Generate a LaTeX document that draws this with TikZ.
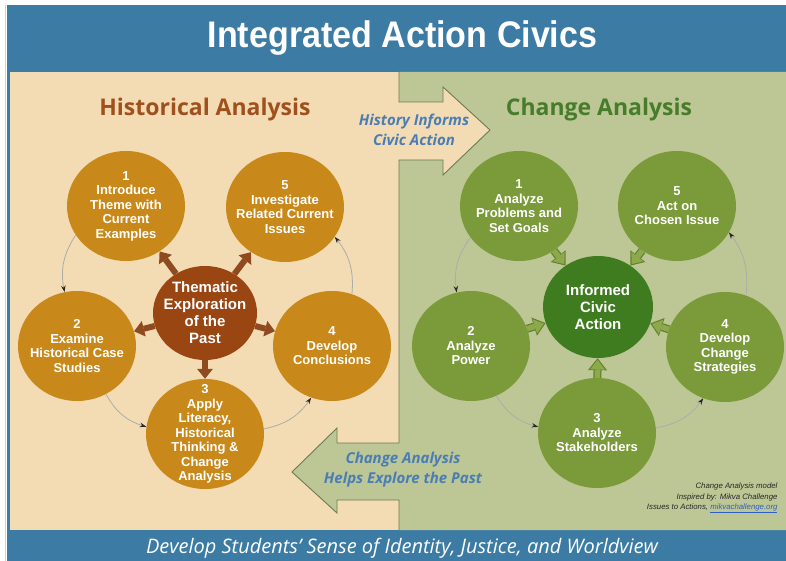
\documentclass[tikz,border=0pt]{standalone}
\usepackage{fontspec}
\usepackage{graphicx}
\setmainfont{Liberation Sans}
\newfontfamily\osans{Open Sans}
\usetikzlibrary{arrows.meta,shapes.geometric}
\definecolor{barblue}{HTML}{3B7BA4}
\definecolor{beige}{HTML}{F3DCB3}
\definecolor{sage}{HTML}{BCC795}
\definecolor{gold}{HTML}{C8891A}
\definecolor{rust}{HTML}{9A4613}
\definecolor{rustarr}{HTML}{8F4A1F}
\definecolor{olive}{HTML}{7B9A3A}
\definecolor{forest}{HTML}{3F7C20}
\definecolor{arrgreen}{HTML}{8DA94C}
\definecolor{arrgreenedge}{HTML}{62812C}
\definecolor{headbrown}{HTML}{A0501D}
\definecolor{headgreen}{HTML}{467C2A}
\definecolor{txtblue}{HTML}{4A7DB4}
\definecolor{edgeline}{HTML}{6E7A55}
\definecolor{linkblue}{HTML}{2F5FC0}
\begin{document}
\begin{tikzpicture}[x=1pt,y=-1pt,
  circtext/.style={text=white, font=\fontsize{13}{14.5}\selectfont\bfseries, align=center},
  bigc/.style={ellipse, minimum width=118pt, minimum height=110pt, inner sep=-16pt, circtext},
  lcirc/.style={bigc, fill=gold},
  rcirc/.style={bigc, fill=olive},
  hubtext/.style={text=white, font=\fontsize{15}{17}\selectfont\bfseries, align=center},
  cyc/.style={draw=gray!65, line width=0.8pt, -{Stealth[length=6.5pt,width=4.5pt,color=black!85]}, bend right=22},
  brownarr/.style={draw=rustarr, line width=6pt, -{Triangle[length=10pt,width=16pt,line width=0pt]}},
  garrout/.style={draw=arrgreenedge, line width=8pt, -{Triangle[length=12pt,width=19pt,line width=0pt]}},
  garrin/.style={draw=arrgreen, line width=5.5pt, shorten >=1.8pt, -{Triangle[length=9.5pt,width=15pt,line width=0pt]}},
  arrtext/.style={text=txtblue, font=\osans\bfseries\itshape\fontsize{15}{20}\selectfont, align=center},
  heading/.style={font=\osans\bfseries\fontsize{23}{26}\selectfont, anchor=base}
]
\useasboundingbox (0,0) rectangle (786,561);
\fill[white] (0,0) rectangle (786,561);
\draw[gray!35] (5.5,5) -- (5.5,561);
\fill[barblue] (6.5,5) rectangle (786,561);
% panels
\fill[beige] (10,72) rectangle (786,530);
\fill[sage] (399,72) -- (786,72) -- (786,530) -- (399,530) -- (399,500) -- (337,500) -- (337,513)
  -- (292,472) -- (337,428) -- (337,443) -- (399,443) -- (399,160) -- (443,160) -- (443,175)
  -- (490,130) -- (443,87) -- (443,102) -- (399,102) -- cycle;
\draw[edgeline, line width=0.9pt, line join=miter] (399,72) -- (399,102) -- (443,102) -- (443,87) -- (490,130)
  -- (443,175) -- (443,160) -- (399,160) -- (399,443) -- (337,443) -- (337,428) -- (292,472)
  -- (337,513) -- (337,500) -- (399,500) -- (399,530);
% title
\node[anchor=base, text=white, font=\bfseries\fontsize{37}{40}\selectfont] (title) at (402.5,48) {\scalebox{0.92}[1]{Integrated Action Civics}};
% headings
\node[heading, text=headbrown] (hhist) at (205,116) {Historical Analysis};
\node[heading, text=headgreen] (hchange) at (599,116) {Change Analysis};
% arrow texts
\node[arrtext] (informs) at (414,130) {History Informs\\Civic Action};
\node[arrtext] (helps) at (403,470) {Change Analysis\\Helps Explore the Past};
% left circles
\node[lcirc] (l1) at (126,206) {1\\Introduce\\Theme with\\Current\\Examples};
\node[lcirc] (l5) at (285,207) {5\\Investigate\\Related Current\\Issues};
\node[lcirc] (l2) at (77,346) {2\\Examine\\Historical Case\\Studies};
\node[lcirc] (l4) at (332,346) {4\\Develop\\Conclusions};
\node[lcirc] (l3) at (205,434) {3\\Apply\\Literacy,\\Historical\\Thinking \&\\Change\\Analysis};
\node[ellipse, minimum width=104pt, minimum height=94pt, inner sep=-14pt, fill=rust, hubtext] (ct) at (205,313) {Thematic\\Exploration\\of the\\Past};
% right circles
\node[rcirc] (r1) at (519,206) {1\\Analyze\\Problems and\\Set Goals};
\node[rcirc] (r5) at (677,206) {5\\Act on\\Chosen Issue};
\node[rcirc] (r2) at (471,346) {2\\Analyze\\Power};
\node[rcirc] (r4) at (725,347) {4\\Develop\\Change\\Strategies};
\node[rcirc] (r3) at (597,433) {3\\Analyze\\Stakeholders};
\node[ellipse, minimum width=110pt, minimum height=102pt, inner sep=-14pt, fill=forest, hubtext] (rc) at (598,307) {Informed\\Civic\\Action};
% brown arrows
\foreach \t in {l1,l5,l2,l4,l3} \draw[brownarr] (ct) -- (\t);
% green arrows
\foreach \s in {r1,r5,r2,r4,r3} {
  \draw[garrout] (\s) -- (rc);
  \draw[garrin] (\s) -- (rc);
}
% cycle arrows
\draw[cyc] (l1.210) to (l2.103);
\draw[cyc] (l2.301) to (l3.173);
\draw[cyc] (l3.5) to (l4.248);
\draw[cyc] (l4.69) to (l5.329);
\draw[cyc] (r1.213) to (r2.105);
\draw[cyc] (r2.297) to (r3.174);
\draw[cyc] (r3.5) to (r4.247);
\draw[cyc] (r4.68) to (r5.333);
% credits
\node[anchor=east, align=right, font=\itshape\fontsize{7.8}{10.2}\selectfont, text=black!85] (credit) at (781,498)
  {Change Analysis model\\Inspired by: Mikva Challenge\\Issues to Actions, \textcolor{linkblue}{\underline{mikvachallenge.org}}};
% bottom bar text
\node[anchor=base, text=white, font=\osans\itshape\fontsize{20}{22}\selectfont] (footer) at (402,553) {Develop Students’ Sense of Identity, Justice, and Worldview};
\end{tikzpicture}
\end{document}
